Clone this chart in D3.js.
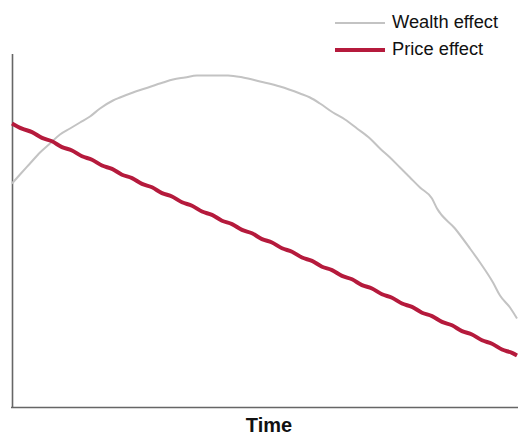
<!DOCTYPE html>
<html>
<head>
<meta charset="utf-8">
<script src="https://cdn.jsdelivr.net/npm/d3@7"></script>
<style>
  html, body { margin: 0; padding: 0; background: #fff; }
  svg { display: block; font-family: "Liberation Sans", Arial, sans-serif; }
</style>
</head>
<body>
<svg id="chart" width="518" height="437"></svg>
<script>
// ---- data ----
const seriesNames = ["Wealth effect", "Price effect"];
const axisTitle = "Time";

const wealthTime = [0, 8, 18, 28, 38, 48, 58, 68, 78, 88, 101, 108, 121, 133, 151, 161, 173, 185, 216, 231, 248, 268, 288, 298, 308, 321, 333, 345, 358, 368, 378, 388, 398, 408, 420, 425, 443, 458, 468, 481, 488, 498, 505];
const wealthValues = [224, 233, 244, 255, 264, 273, 279, 285, 291, 299, 307, 310, 315, 319, 325, 328, 330, 332, 332, 330, 326, 321, 314, 310, 304, 295, 288, 279, 269, 259, 250, 240, 230, 220, 209, 199, 179, 159, 145, 125, 112, 100, 89];

const priceTime = [0, 10, 20, 30, 40, 50, 60, 70, 80, 90, 100, 110, 120, 130, 140, 150, 160, 170, 180, 190, 200, 210, 220, 230, 240, 250, 260, 270, 280, 290, 300, 310, 320, 330, 340, 350, 360, 370, 380, 390, 400, 410, 420, 430, 440, 450, 460, 470, 480, 490, 500, 505];
const priceValues = [284, 278.8, 275.4, 269.6, 266.2, 260.4, 257, 251.2, 247.8, 242, 238.6, 232.8, 229.4, 223.6, 220.2, 214.4, 211, 205.2, 201.8, 196, 192.6, 186.8, 183.4, 177.6, 174.2, 168.4, 165, 159.2, 155.8, 150, 146.6, 140.8, 137.4, 131.6, 128.2, 122.4, 119, 113.2, 109.8, 104, 100.6, 94.8, 91.4, 85.6, 82.2, 76.4, 73, 67.2, 63.8, 58, 54.6, 52];

const colors = ["#c3c3c3", "#b51a3c"];

// ---- layout ----
const svg = d3.select("#chart");
const x = d3.scaleLinear().domain([0, 505]).range([12, 517]);
const y = d3.scaleLinear().domain([0, 354]).range([407.5, 53.5]);

// axes (no ticks)
svg.append("g")
  .attr("transform", `translate(0,${y(0)})`)
  .call(d3.axisBottom(x).tickValues([]).tickSizeOuter(0))
  .call(g => g.select(".domain").attr("stroke", "#666").attr("stroke-width", 1.6)
     .attr("d", `M${x(0) - 1},0H${x(505) + 1}`));
svg.append("g")
  .attr("transform", `translate(${x(0)},0)`)
  .call(d3.axisLeft(y).tickValues([]).tickSizeOuter(0))
  .call(g => g.select(".domain").attr("stroke", "#666").attr("stroke-width", 1.6));

const line = d3.line()
  .x(d => x(d[0]))
  .y(d => y(d[1]))
  .curve(d3.curveMonotoneX);

const wealth = wealthTime.map((t, i) => [t, wealthValues[i]]);
const price = priceTime.map((t, i) => [t, priceValues[i]]);

svg.append("path").datum(wealth)
  .attr("fill", "none").attr("stroke", colors[0]).attr("stroke-width", 2)
  .attr("d", line);
svg.append("path").datum(price)
  .attr("fill", "none").attr("stroke", colors[1]).attr("stroke-width", 4)
  .attr("stroke-linejoin", "round")
  .attr("d", line);

// legend
const legend = svg.append("g");
const legendY = [23, 50];
const lineW = [2, 4];
seriesNames.forEach((name, i) => {
  legend.append("line")
    .attr("x1", 335).attr("x2", 385)
    .attr("y1", legendY[i]).attr("y2", legendY[i])
    .attr("stroke", colors[i]).attr("stroke-width", lineW[i]);
  legend.append("text")
    .attr("x", 392).attr("y", legendY[i] + 5)
    .attr("font-size", 18.3)
    .attr("fill", "#111")
    .text(name);
});

// axis title
svg.append("text")
  .attr("x", 269).attr("y", 432)
  .attr("text-anchor", "middle")
  .attr("font-size", 20)
  .attr("font-weight", "bold")
  .attr("fill", "#111")
  .text(axisTitle);
</script>
</body>
</html>
